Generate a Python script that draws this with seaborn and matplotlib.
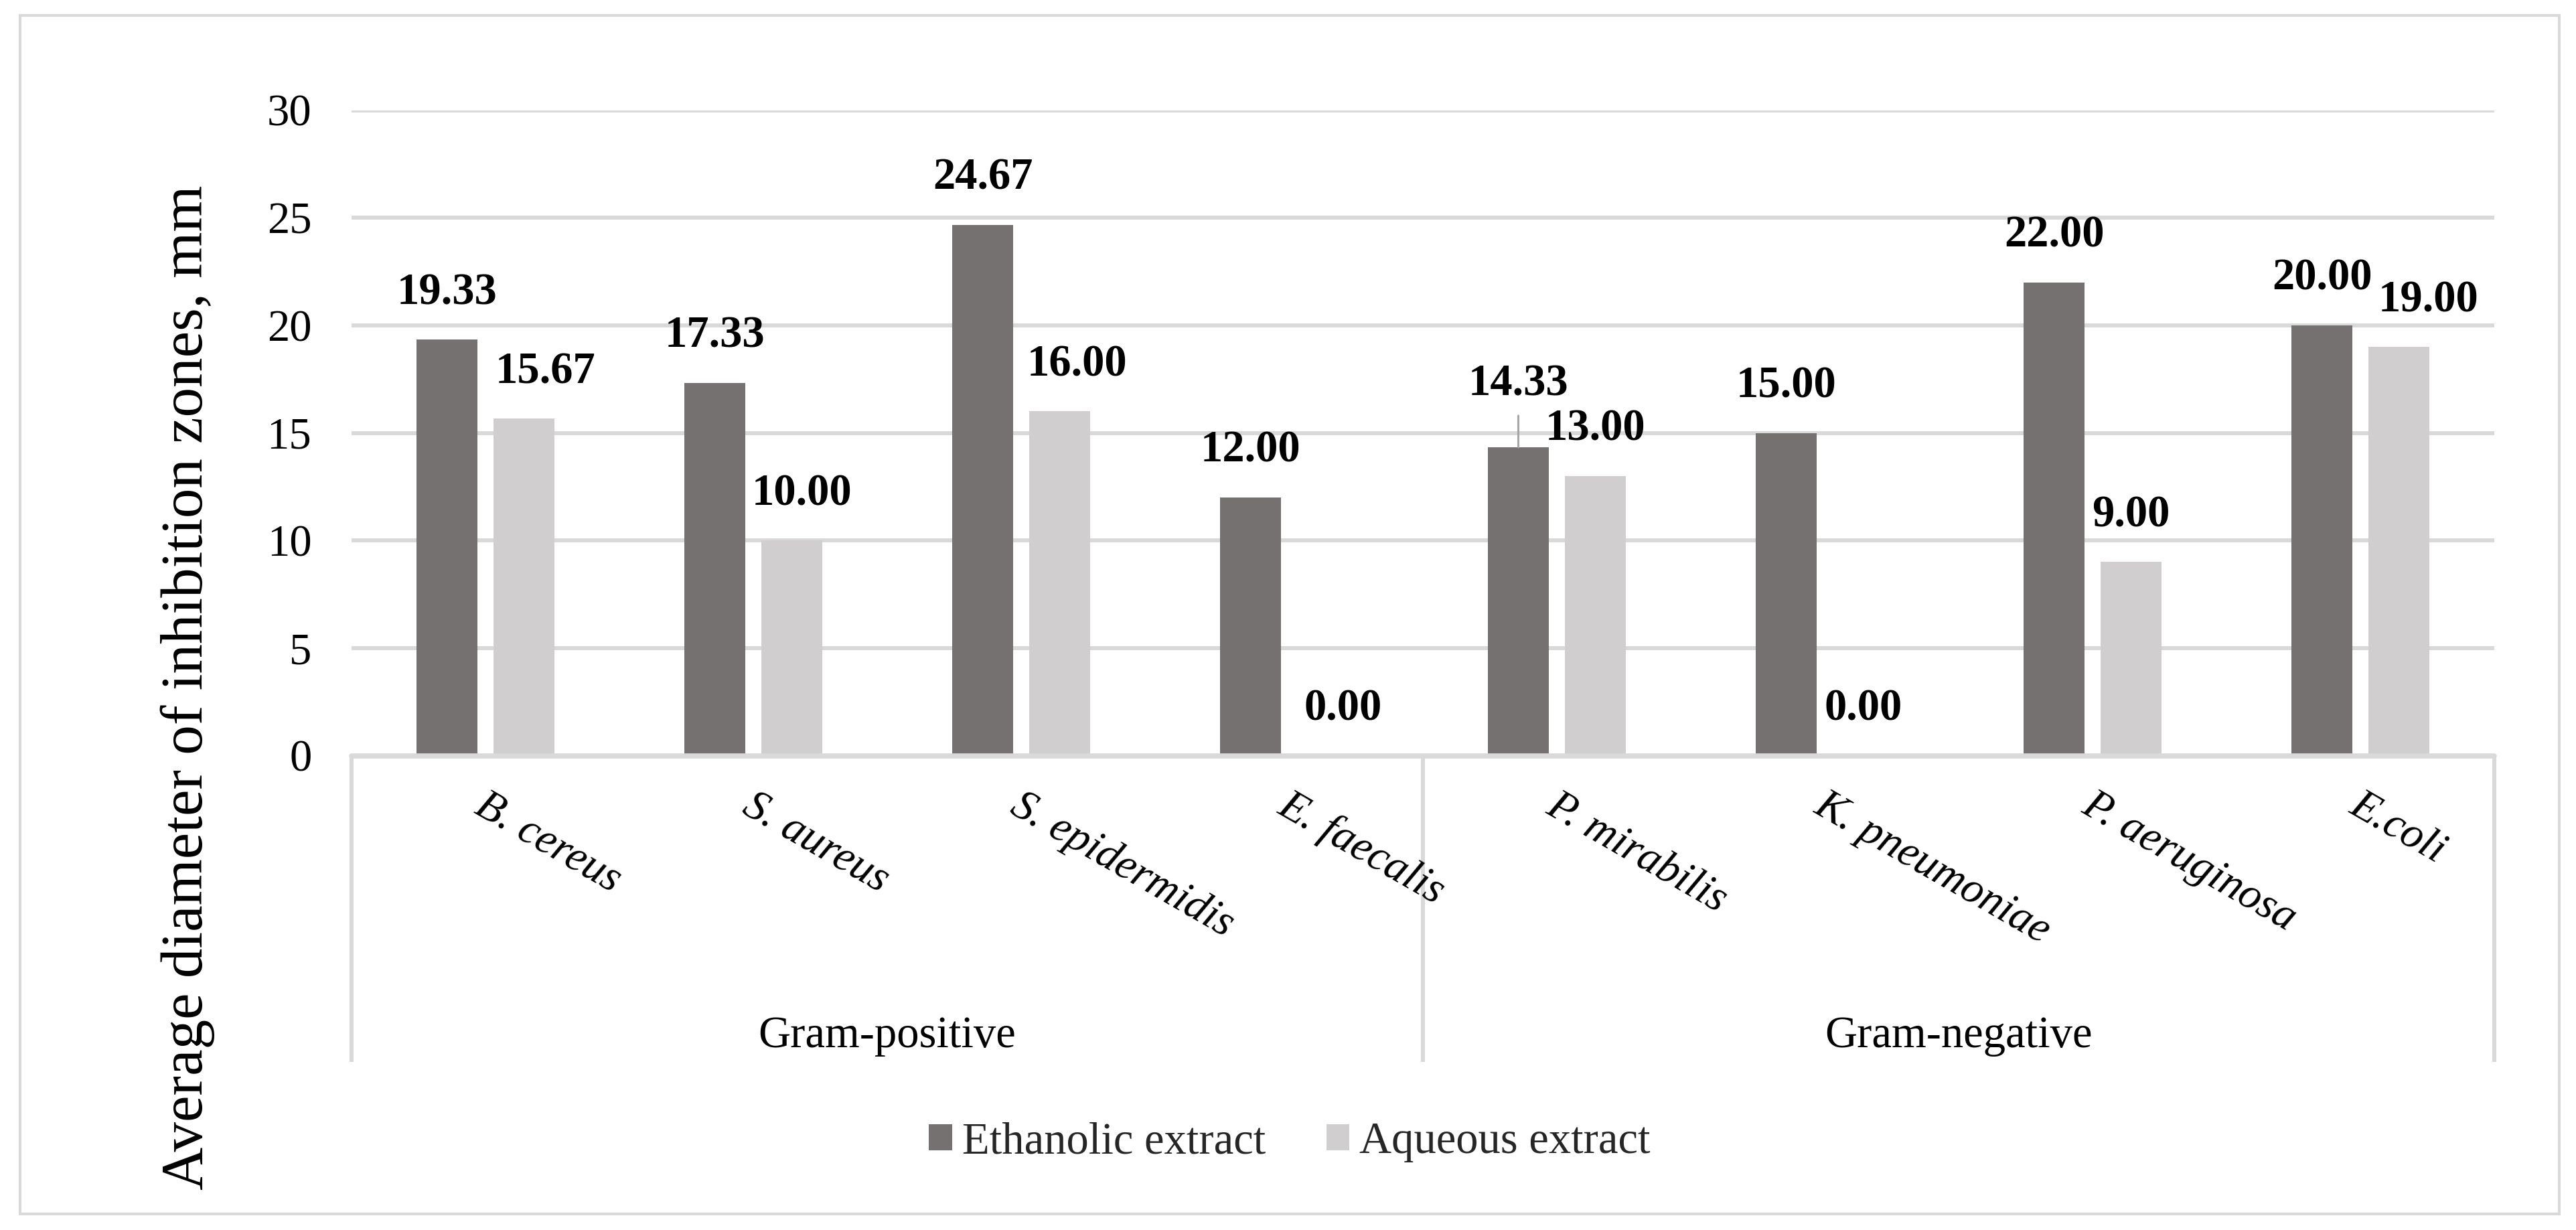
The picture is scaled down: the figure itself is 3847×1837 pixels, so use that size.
import matplotlib
matplotlib.use('Agg')
import matplotlib.pyplot as plt
import matplotlib.transforms as mtransforms
from matplotlib.patches import Rectangle
import pandas as pd
import seaborn as sns

categories = ["B. cereus", "S. aureus", "S. epidermidis", "E. faecalis",
              "P. mirabilis", "K. pneumoniae", "P. aeruginosa", "E.coli"]
group_names = ["Gram-positive", "Gram-negative"]
group_sizes = [4, 4]
series_names = ["Ethanolic extract", "Aqueous extract"]
ethanolic = [19.33, 17.33, 24.67, 12.00, 14.33, 15.00, 22.00, 20.00]
aqueous = [15.67, 10.00, 16.00, 0.00, 13.00, 0.00, 9.00, 19.00]
y_ticks = [0, 5, 10, 15, 20, 25, 30]
y_label = "Average diameter of inhibition zones, mm"

df = pd.DataFrame({
    "category": categories * 2,
    "extract": [series_names[0]] * len(categories) + [series_names[1]] * len(categories),
    "value": ethanolic + aqueous,
})

# label nudges in points (dx, dy), as moved by hand in the original chart
nudges = {
    ("Aqueous extract", "B. cereus"): (23, 0),
    ("Aqueous extract", "S. aureus"): (11, 0),
    ("Aqueous extract", "S. epidermidis"): (19, 0),
    ("Aqueous extract", "E. faecalis"): (17, 0),
    ("Aqueous extract", "E.coli"): (32, 0),
    ("Ethanolic extract", "P. mirabilis"): (0, 18),
}

sns.set_theme(style="white")
plt.rcParams['font.family'] = ['Liberation Serif', 'DejaVu Serif']

W, H = 3848, 1837
fig = plt.figure(figsize=(W / 100, H / 100), dpi=100)
ax = fig.add_axes([525 / W, 1 - 1128.5 / H, 3200 / W, 964 / H])

grid_col = '#D9D9D9'
sns.barplot(data=df, x="category", y="value", hue="extract", order=categories,
            hue_order=series_names, palette=['#767171', '#D0CECE'], saturation=1,
            width=0.575, gap=0.217, linewidth=0, errorbar=None, ax=ax)

ax.set_xlim(-0.5, len(categories) - 0.5)
ax.set_ylim(0, 30)
ax.set_yticks(y_ticks)
ax.set_xticks(range(len(categories)))
ax.set_xticklabels([])
ax.set_xlabel('')
ax.set_ylabel('')
ax.tick_params(axis='y', labelsize=48, length=0, pad=43, labelcolor='black')
ax.tick_params(axis='x', length=0)
ax.yaxis.grid(True, color=grid_col, lw=4.3)
ax.set_axisbelow(True)
for s in ax.spines.values():
    s.set_visible(False)
ax.axhline(0, color=grid_col, lw=5.5, zorder=3, clip_on=False)

# bar value labels
for k, cont in enumerate(ax.containers):
    for bar, cat in zip(cont, categories):
        x = bar.get_x() + bar.get_width() / 2
        h = bar.get_height()
        dx, dy = nudges.get((series_names[k], cat), (0, 0))
        ax.annotate(f"{h:.2f}", xy=(x, h), xytext=(dx, 50 + dy), textcoords='offset points',
                    ha='center', va='center', fontsize=48, fontweight='bold',
                    color='black', annotation_clip=False)
        if dy > 0:
            ax.annotate('', xy=(x, h), xytext=(0, 34), textcoords='offset points',
                        arrowprops=dict(arrowstyle='-', color='#A6A6A6', lw=2.2,
                                        shrinkA=0, shrinkB=0))

# category labels
for i, name in enumerate(categories):
    ax.annotate(name, xy=(i, 0), xytext=(3, -32), textcoords='offset points',
                rotation=-30, rotation_mode='anchor', ha='left', va='top',
                fontsize=47, style='italic', color='black', annotation_clip=False)

# group axis: separators and labels
trans = mtransforms.blended_transform_factory(ax.transData, ax.transAxes)
edges = [-0.5]
for n in group_sizes:
    edges.append(edges[-1] + n)
for xe in edges:
    ax.plot([xe, xe], [0, -0.4746], transform=trans, color=grid_col, lw=4.3,
            clip_on=False, solid_capstyle='butt')
for name, a, b in zip(group_names, edges[:-1], edges[1:]):
    ax.text((a + b) / 2, -0.4518, name, transform=trans, ha='center', va='baseline',
            fontsize=48, color='black')

fig.text(280 / W, 1 - 1027 / H, y_label, rotation=90, ha='center', va='center',
         fontsize=64, color='black')

sns.move_legend(ax, 'center', bbox_to_anchor=(1926 / W, 1 - 1706 / H),
                bbox_transform=fig.transFigure, ncol=2, frameon=False, title=None,
                fontsize=48, handlelength=0.52, handleheight=0.52,
                handletextpad=0.22, columnspacing=1.36)

fig.patches.append(Rectangle((30 / W, 1 - 1813 / H), 3792 / W, 1790 / H,
                             transform=fig.transFigure, fill=False,
                             ec=grid_col, lw=3))

fig.savefig('out.png', dpi=100)
